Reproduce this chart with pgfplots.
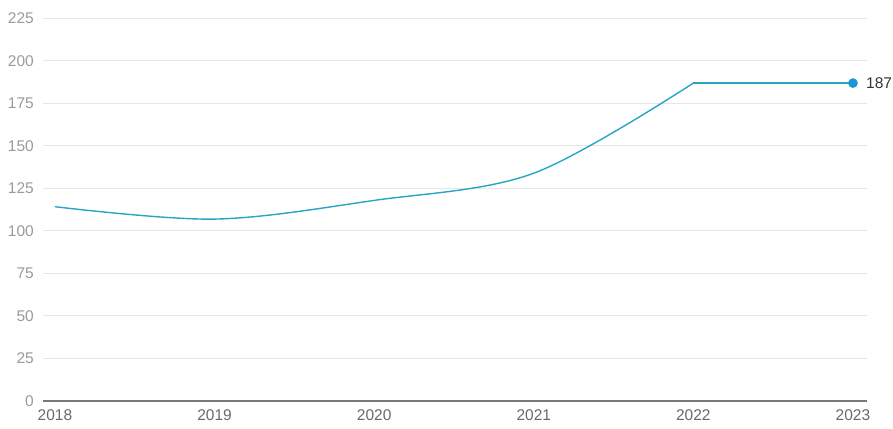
\documentclass[border=0pt]{standalone}
\usepackage{pgfplots}
\pgfplotsset{compat=1.18}
\usepackage{fontspec}
\setmainfont{Liberation Sans}
\definecolor{linec}{RGB}{38,166,196}
\definecolor{dotc}{RGB}{25,150,212}
\definecolor{gridc}{RGB}{230,230,230}
\definecolor{ylab}{RGB}{155,155,155}
\definecolor{xlab}{RGB}{105,105,105}
\definecolor{axc}{RGB}{120,120,120}
\begin{document}
\begin{tikzpicture}
\path[use as bounding box] (-43pt,-27pt) rectangle ++(893pt,428pt);
\begin{axis}[
  at={(0,0)}, anchor=south west,
  scale only axis, width=824pt, height=382.5pt,
  xmin=2017.925, xmax=2023.088, ymin=0, ymax=225,
  xtick={2018,2019,2020,2021,2022,2023},
  xticklabels={2018,2019,2020,2021,2022,2023},
  ytick={0,25,50,75,100,125,150,175,200,225},
  /pgf/number format/assume math mode=true,
  axis x line=bottom, axis y line=left,
  y axis line style={draw=none},
  x axis line style={-, draw=axc, line width=2pt},
  major tick length=0pt,
  ymajorgrids, grid style={gridc, line width=1pt},
  yticklabel style={font=\fontsize{15.5}{18}\selectfont, text=ylab, anchor=east, inner sep=0pt, xshift=-9pt},
  xticklabel style={font=\fontsize{15.5}{18}\selectfont, text=xlab, anchor=north, inner sep=0pt, yshift=-8pt},
  clip=false,
]
\addplot[linec, line width=1.4pt, smooth, tension=0.55] coordinates {
  (2018,114.3) (2019,107) (2020,118) (2021,134) (2022,187)
};
\addplot[linec, line width=1.4pt] coordinates {(2022,187) (2023,187)};
\addplot[only marks, mark=*, mark size=4.6pt, dotc, mark options={draw=dotc, fill=dotc}] coordinates {(2023,187)};
\node[anchor=west, inner sep=0pt, xshift=13pt, text={rgb,255:red,51;green,51;blue,51}, font=\fontsize{15.5}{18}\selectfont] at (axis cs:2023,187) {187};
\end{axis}
\end{tikzpicture}
\end{document}
